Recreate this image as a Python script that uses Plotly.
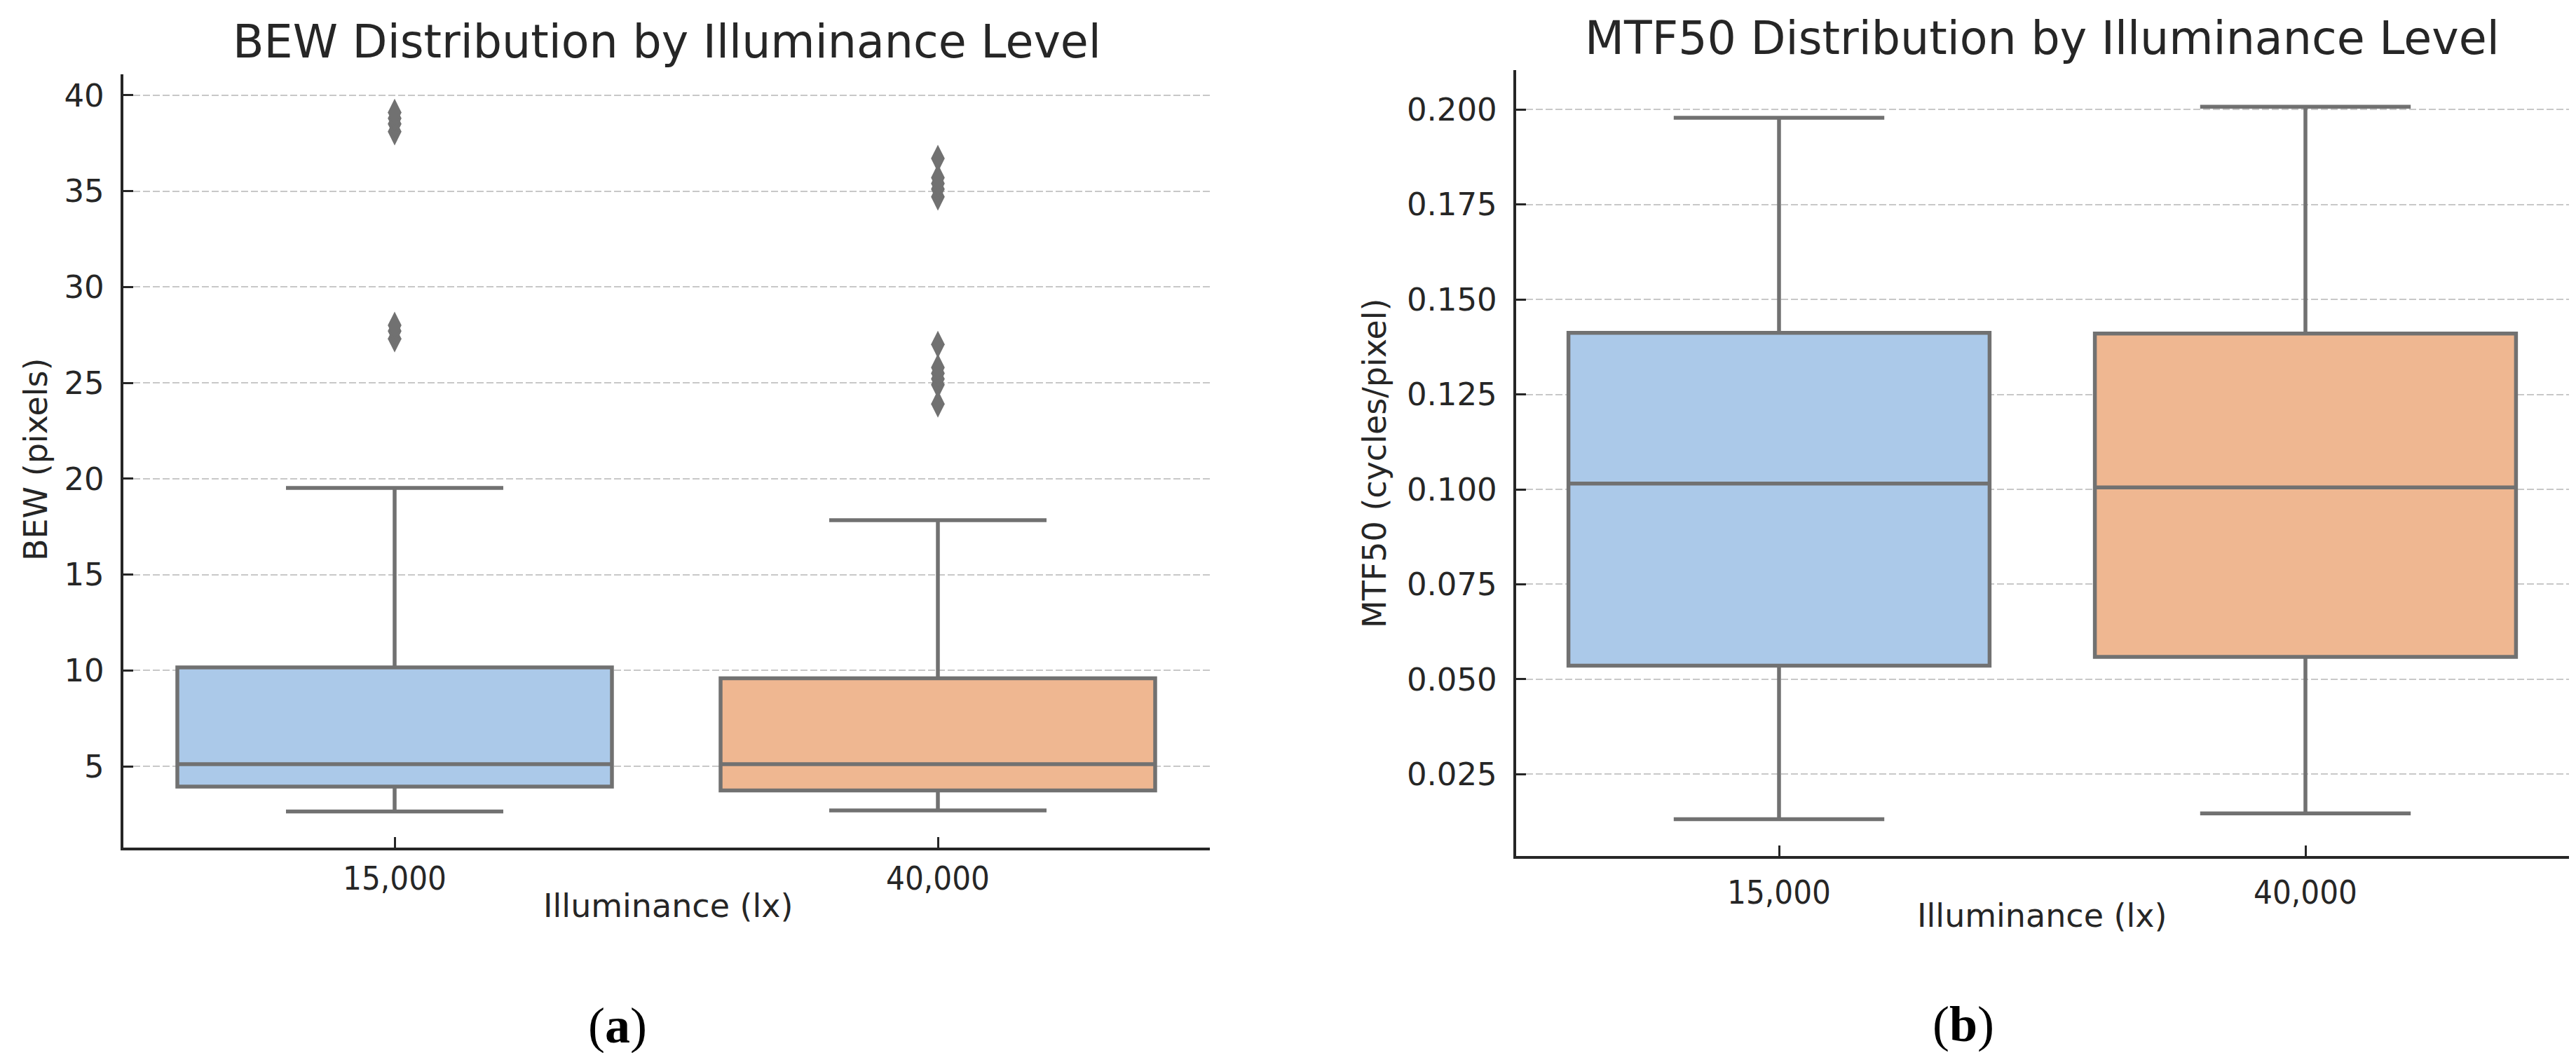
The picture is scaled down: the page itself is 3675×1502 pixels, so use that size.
import plotly.graph_objects as go

# ---------------- data ----------------
categories = ["15,000", "40,000"]

bew_lower = [2.64, 2.70]
bew_q1 = [3.94, 3.74]
bew_median = [5.11, 5.11]
bew_q3 = [10.16, 9.59]
bew_upper = [19.52, 17.84]
bew_out_15000 = [27.3, 27.7, 28.0, 38.1, 38.5, 38.8, 39.1]
bew_out_40000 = [23.9, 24.9, 25.2, 25.5, 25.8, 27.0, 34.7, 35.1, 35.4, 35.7, 36.7]

mtf_lower = [0.0132, 0.0147]
mtf_q1 = [0.0536, 0.0559]
mtf_median = [0.1015, 0.1005]
mtf_q3 = [0.1412, 0.1410]
mtf_upper = [0.1978, 0.2007]

bew_ticks = [5, 10, 15, 20, 25, 30, 35, 40]
mtf_ticks = [0.025, 0.050, 0.075, 0.100, 0.125, 0.150, 0.175, 0.200]

fills = ["#abc9e9", "#efb791"]
line_gray = "#717171"
ink = "#262626"

W, H = 3675, 1502

fig = go.Figure()

# ---------------- boxes ----------------
for i, cat in enumerate(categories):
    fig.add_trace(go.Box(
        x=[cat], q1=[bew_q1[i]], median=[bew_median[i]], q3=[bew_q3[i]],
        lowerfence=[bew_lower[i]], upperfence=[bew_upper[i]],
        width=0.8, whiskerwidth=0.5, fillcolor=fills[i],
        line=dict(color=line_gray, width=5.5), boxpoints=False,
        xaxis="x", yaxis="y", showlegend=False, hoverinfo="skip"))
    fig.add_trace(go.Box(
        x=[cat], q1=[mtf_q1[i]], median=[mtf_median[i]], q3=[mtf_q3[i]],
        lowerfence=[mtf_lower[i]], upperfence=[mtf_upper[i]],
        width=0.8, whiskerwidth=0.5, fillcolor=fills[i],
        line=dict(color=line_gray, width=5.5), boxpoints=False,
        xaxis="x2", yaxis="y2", showlegend=False, hoverinfo="skip"))

# ---------------- outliers ----------------
for cat, vals in [(categories[0], bew_out_15000), (categories[1], bew_out_40000)]:
    fig.add_trace(go.Scatter(
        x=[cat] * len(vals), y=vals, mode="markers",
        marker=dict(symbol="diamond-tall", size=28, color=line_gray,
                    line=dict(width=0)),
        xaxis="x", yaxis="y", showlegend=False, hoverinfo="skip"))

# ---------------- axes ----------------
def px_x(p):
    return p / W

def px_y(p):
    return (H - p) / H

tick_font = dict(family="DejaVu Sans", size=45, color=ink)
xtick_font = dict(family="DejaVu Sans Condensed, Liberation Sans Narrow, Roboto Condensed, DejaVu Sans",
                  size=47, color=ink)
grid = dict(showgrid=True, gridcolor="#c8c8c8", gridwidth=2, griddash="10px,4px")
common_y = dict(showline=True, linecolor=ink, linewidth=3.5, ticks="inside",
                ticklen=15, tickwidth=3, tickcolor=ink, zeroline=False,
                tickfont=tick_font, ticklabelstandoff=14, **grid)
common_x = dict(type="category", categoryorder="array", categoryarray=categories,
                range=[-0.5, 1.5], showline=True, linecolor=ink, linewidth=3.5,
                ticks="inside", ticklen=15, tickwidth=3, tickcolor=ink,
                showgrid=False, zeroline=False, tickfont=xtick_font)

fig.update_layout(
    width=W, height=H, autosize=False,
    margin=dict(l=0, r=0, t=0, b=0),
    paper_bgcolor="white", plot_bgcolor="white",
    boxmode="overlay",
    xaxis=dict(domain=[px_x(167.5), px_x(1717.5)], anchor="y",
               ticklabelstandoff=0, **common_x),
    yaxis=dict(domain=[px_y(1201), px_y(98.3)], anchor="x",
               range=[0.76, 41.08], tickvals=bew_ticks, **common_y),
    xaxis2=dict(domain=[px_x(2154.5), px_x(3656.5)], anchor="y2",
                ticklabelstandoff=8, **common_x),
    yaxis2=dict(domain=[px_y(1212.8), px_y(91.8)], anchor="x2",
                range=[0.00354, 0.21037], tickvals=mtf_ticks, tickformat=".3f",
                **common_y),
)

# ---------------- text ----------------
title_font = dict(family="DejaVu Sans", size=65, color=ink)
label_font = dict(family="DejaVu Sans", size=46, color=ink)
panel_font = dict(family="Liberation Serif, Times New Roman, serif", size=72, color="black")

annotations = [
    dict(text="BEW Distribution by Illuminance Level", x=px_x(943), y=px_y(52),
         font=title_font),
    dict(text="MTF50 Distribution by Illuminance Level", x=px_x(2905), y=px_y(46),
         font=title_font),
    dict(text="BEW (pixels)", x=px_x(43), y=px_y(648), textangle=-90, font=label_font),
    dict(text="MTF50 (cycles/pixel)", x=px_x(1953), y=px_y(653), textangle=-90,
         font=label_font),
    dict(text="Illuminance (lx)", x=px_x(945), y=px_y(1284), font=label_font),
    dict(text="Illuminance (lx)", x=px_x(2905), y=px_y(1298), font=label_font),
    dict(text="(<b>a</b>)", x=px_x(873), y=px_y(1455), font=panel_font),
    dict(text="(<b>b</b>)", x=px_x(2793), y=px_y(1453), font=panel_font),
]
for a in annotations:
    a.update(xref="paper", yref="paper", xanchor="center", yanchor="middle",
             showarrow=False)
fig.update_layout(annotations=annotations)

fig.write_html("out.html")
